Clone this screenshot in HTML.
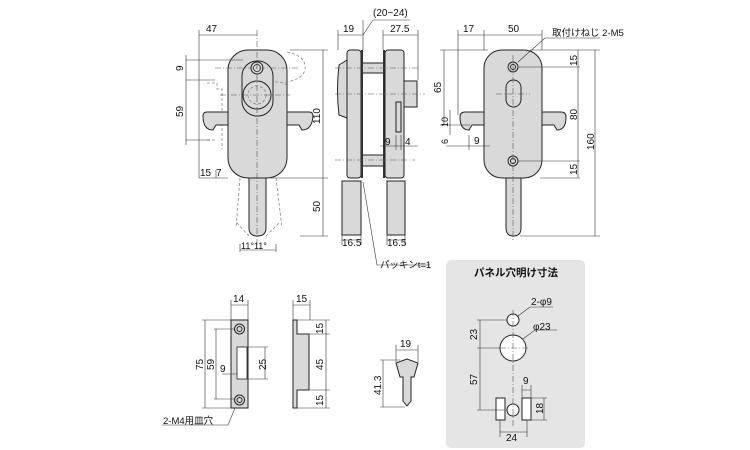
<!DOCTYPE html>
<html><head><meta charset="utf-8"><style>
body{margin:0;background:#fff;}
svg{display:block;font-family:"Liberation Sans","Noto Sans CJK JP",sans-serif;}
.b{fill:#d9d9d9;stroke:#222;stroke-width:1;}
.d{stroke:#333;stroke-width:0.6;fill:none;}
.c{stroke:#555;stroke-width:0.6;fill:none;stroke-dasharray:6 2 1 2;}
.h{stroke:#888;stroke-width:0.8;fill:none;stroke-dasharray:3 2;}
text{font-size:10px;fill:#111;}
</style></head><body>
<svg width="750" height="450" viewBox="0 0 750 450" xmlns="http://www.w3.org/2000/svg">
<!-- FRONT VIEW -->
<path class="h" d="M249 236 L236 222 M266 236 L280 222 M240 178 L236 228 M276 178 L282 228"/>
<path class="h" d="M207 83 h10 v6 h5 v60 M207 140 h10"/>
<path class="b" d="M203 116 q0 -4 4 -4 h21 v13 h-12 l-3 5 q-10 0 -10 -14z"/>
<path class="b" d="M313 116 q0 -4 -4 -4 h-22 v13 h12 l3 5 q10 0 11 -14z"/>
<rect class="b" x="228" y="50" width="59" height="128" rx="20"/>
<rect class="b" x="242" y="61" width="31" height="55" rx="15"/>
<circle class="b" cx="257" cy="68" r="6"/><circle cx="257" cy="68" r="3.5" fill="none" stroke="#222" stroke-width="0.8"/>
<circle class="b" cx="257" cy="95" r="14"/><circle class="h" cx="257" cy="95" r="9"/>
<path class="h" d="M287 52 q20 4 18 18 q-3 10 -20 12 M275 82 q12 0 12 5"/>
<path class="b" d="M249 178 h17 v50 q0 8 -8.5 8 q-8.5 0 -8.5 -8z"/>
<path class="c" d="M257 30 V245 M220 95 H290 M215 68 H300"/>
<!-- dims front -->
<path class="d" d="M199 35 H257 M199 30 V170 M186 60 H243 M186 80 H215 M186 140 H210 M186 55 V145 M323 50 V236 M290 50 H328 M270 178 H328 M300 236 H328 M199 178 V170 M216 178 V170 M199 178 H228 M240 250 H276 M240 244 V252 M276 244 V252"/>
<text x="206" y="32">47</text>
<text transform="translate(183 71) rotate(-90)">9</text>
<text transform="translate(183 117) rotate(-90)">59</text>
<text transform="translate(320 124) rotate(-90)">110</text>
<text transform="translate(320 212) rotate(-90)">50</text>
<text x="200" y="176">15</text><text x="216" y="176">7</text>
<text x="241" y="249" style="font-size:9px">11°11°</text>
<!-- SIDE VIEW -->
<path class="b" d="M347 60 l-8 5 q-3 25 0 50 l8 3z"/>
<rect class="b" x="361" y="63" width="24" height="10"/><rect class="b" x="361" y="155" width="24" height="11"/>
<rect class="b" x="347" y="50" width="14" height="128" rx="3"/>
<rect x="361" y="50" width="2" height="128" fill="#333"/>
<rect x="383" y="50" width="2" height="128" fill="#333"/>
<rect class="b" x="385" y="50" width="19" height="128" rx="3"/>
<rect class="b" x="404" y="81" width="13" height="26"/>
<rect class="b" x="396" y="102" width="5" height="30"/>
<rect class="b" x="342" y="181" width="19" height="54"/>
<rect class="b" x="387" y="181" width="18" height="54"/>
<path class="c" d="M335 68 H420 M335 94 H425 M335 160 H415"/>
<path class="d" d="M338 35 H363 M383 35 H418 M338 30 V50 M363 20 V50 M383 30 V50 M418 30 V80 M363 35 L373 20 H410 M342 240 H361 M387 240 H405 M342 235 V245 M361 235 V245 M387 235 V245 M405 235 V245 M363 182 L377 265 H430 M380 146 H418 M396 135 V150 M401 135 V150"/>
<text x="343" y="32">19</text><text x="390" y="32">27.5</text><text x="373" y="16">(20~24)</text>
<text x="385" y="145">9</text><text x="405" y="145">4</text>
<text x="342" y="246">16.5</text><text x="387" y="246">16.5</text>
<text x="380" y="268" style="font-size:9.5px">パッキンt=1</text>
<!-- RIGHT VIEW -->
<path class="b" d="M460 117 q0 -5 5 -5 h19 v13 h-12 l-3 5 q-9 0 -9 -13z"/>
<path class="b" d="M566 117 q0 -5 -5 -5 h-19 v13 h12 l3 5 q9 0 9 -13z"/>
<rect class="b" x="484" y="50" width="58" height="128" rx="18"/>
<rect class="b" x="506" y="80" width="15" height="27" rx="7.5"/>
<circle class="b" cx="513" cy="67" r="5"/><circle cx="513" cy="67" r="2.5" fill="none" stroke="#222"/>
<circle class="b" cx="513" cy="161" r="5"/><circle cx="513" cy="161" r="2.5" fill="none" stroke="#222"/>
<path class="b" d="M506 178 h15 v50 q0 8 -7.5 8 q-7.5 0 -7.5 -8z"/>
<path class="c" d="M513 55 V240 M496 94 H530"/>
<path class="d" d="M458 35 H542 M458 30 V115 M484 30 V50 M542 30 V50 M440 50 H488 M444 50 V125 M440 125 H470 M450 110 V135 M446 146 H490 M469 135 V150 M518 67 H580 M518 161 H580 M540 178 H580 M520 236 H600 M578 50 V178 M595 50 V236 M530 50 H600 M518 62 L545 38 H600"/>
<text x="463" y="32">17</text><text x="508" y="32">50</text>
<text x="552" y="36" style="font-size:9.5px">取付けねじ 2-M5</text>
<text transform="translate(441 93) rotate(-90)">65</text>
<text transform="translate(448 127) rotate(-90)" style="font-size:9px">10</text>
<text transform="translate(448 144) rotate(-90)" style="font-size:9px">6</text>
<text x="474" y="144">9</text>
<text transform="translate(577 66) rotate(-90)">15</text>
<text transform="translate(577 120) rotate(-90)">80</text>
<text transform="translate(577 175) rotate(-90)">15</text>
<text transform="translate(594 150) rotate(-90)">160</text>
<!-- STRIKE -->
<rect class="b" x="231" y="320" width="17" height="88"/>
<rect x="237" y="347" width="10" height="32" fill="#fff" stroke="#222" stroke-width="0.8"/>
<circle class="b" cx="239.5" cy="329" r="5"/><circle cx="239.5" cy="329" r="2.5" fill="none" stroke="#222"/>
<circle class="b" cx="239.5" cy="400" r="5"/><circle cx="239.5" cy="400" r="2.5" fill="none" stroke="#222"/>
<path class="d" d="M231 305 H248 M231 300 V320 M248 300 V320 M202 320 H231 M202 408 H231 M205 320 V408 M216 329 V399 M214 329 H235 M214 399 H235 M248 347 H268 M248 379 H268 M265 347 V379 M222 374 H237 M162 425 H228 L235 408"/>
<text x="233" y="302">14</text>
<text transform="translate(203 370) rotate(-90)">75</text>
<text transform="translate(214 370) rotate(-90)">59</text>
<text x="220" y="372">9</text>
<text transform="translate(266 370) rotate(-90)">25</text>
<text x="163" y="424" style="font-size:9.5px">2-M4用皿穴</text>
<path class="b" d="M293 320 h4 v14 h12 v56 h-12 v18 h-4z"/>
<path class="d" d="M293 305 H310 M293 300 V320 M310 300 V320 M297 320 H330 M297 334 H330 M297 390 H330 M297 408 H330 M326 320 V408"/>
<text x="296" y="302">15</text>
<text transform="translate(323 334) rotate(-90)">15</text>
<text transform="translate(323 370) rotate(-90)">45</text>
<text transform="translate(323 406) rotate(-90)">15</text>
<!-- KEY -->
<path class="b" d="M396 363 l11 -4 l11 4 l-4 14 h-3 v24 l-4 5 l-4 -5 v-24 h-3z"/>
<path class="d" d="M396 350 H418 M396 345 V362 M418 345 V362 M380 360 H400 M380 407 H405 M383 360 V407"/>
<text x="400" y="347">19</text>
<text transform="translate(381 395) rotate(-90)">41.3</text>
<!-- PANEL BOX -->
<rect x="446" y="260" width="139" height="188" rx="5" fill="#e5e5e5"/>
<text x="474" y="276" style="font-size:10.5px;font-weight:bold">パネル穴明け寸法</text>
<circle cx="513" cy="320" r="6" fill="#fff" stroke="#222"/>
<circle cx="513" cy="348" r="13" fill="#fff" stroke="#222"/>
<circle cx="513" cy="410" r="6" fill="#fff" stroke="#222"/>
<rect x="496" y="398" width="9" height="22" fill="#fff" stroke="#222"/>
<rect x="522" y="398" width="9" height="22" fill="#fff" stroke="#222"/>
<path class="c" d="M513 310 V428 M500 348 H530"/>
<path class="d" d="M477 320 H507 M477 348 H500 M477 410 H505 M480 320 V410 M518 316 L530 307 H553 M523 339 L535 330 H557 M522 390 H531 M522 385 V398 M531 385 V398 M531 398 H547 M531 420 H547 M544 398 V420 M500 432 H527 M500 420 V437 M527 420 V437"/>
<text x="531" y="305">2-φ9</text><text x="533" y="330">φ23</text>
<text transform="translate(477 340) rotate(-90)">23</text>
<text transform="translate(477 385) rotate(-90)">57</text>
<text x="523" y="384">9</text>
<text transform="translate(543 414) rotate(-90)">18</text>
<text x="506" y="441">24</text>
</svg>
</body></html>
